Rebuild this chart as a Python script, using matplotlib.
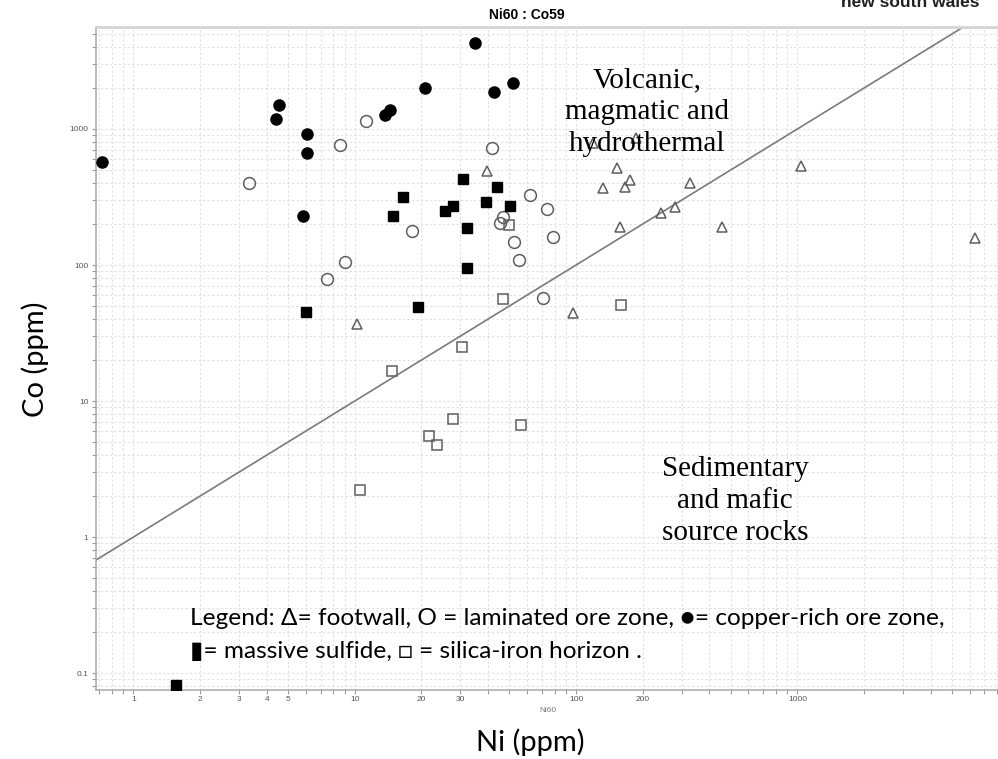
import matplotlib
matplotlib.use("Agg")
import matplotlib.pyplot as plt

# ---- data: Ni (ppm) and Co (ppm) per sample group ----
footwall_ni = [10.2, 39.7, 96.5, 119.6, 132.7, 153.5, 158, 166.4, 175.2, 186.5,
               242, 280, 327, 458, 1038, 6345]
footwall_co = [36.8, 491, 44.6, 785, 366, 520, 189, 377, 422, 855,
               240, 267, 403, 189, 537, 159]

laminated_ni = [3.34, 7.51, 8.60, 9.0, 11.2, 18.1, 41.7, 45.3, 46.9, 52.4,
                55.4, 61.9, 70.8, 74.1, 78.4]
laminated_co = [399, 78.9, 763, 105, 1145, 178, 725, 205, 224, 148,
                108, 327, 56.9, 257, 161]

copper_ni = [0.72, 4.40, 4.53, 5.81, 6.06, 6.06, 13.7, 14.5, 20.8, 34.9, 42.4, 51.7]
copper_co = [569, 1178, 1494, 229, 924, 669, 1268, 1371, 1991, 4313, 1862, 2168]

massive_ni = [1.56, 6.02, 14.9, 16.6, 19.4, 25.6, 27.7, 30.8, 32.2, 32.2, 39.1, 43.8, 50.3]
massive_co = [0.0816, 45.4, 229, 315, 49.3, 251, 272, 431, 187, 94.6, 292, 377, 272]

silica_ni = [10.6, 14.7, 21.6, 23.5, 27.9, 30.5, 46.9, 49.8, 56.2, 160]
silica_co = [2.22, 16.6, 5.53, 4.75, 7.33, 25.1, 56.2, 198, 6.66, 50.6]

# Co = Ni reference line
ratio_line = [0.1, 20000]

x_major = [1, 2, 3, 4, 5, 10, 20, 30, 100, 200, 1000]
x_major_labels = ["1", "2", "3", "4", "5", "10", "20", "30", "100", "200", "1000"]
y_major = [0.1, 1, 10, 100, 1000]
y_major_labels = ["0.1", "1", "10", "100", "1000"]

W, H = 998, 759
fig = plt.figure(figsize=(W / 100, H / 100), dpi=100)


def fx(px):
    return px / W


def fy(py):
    return 1 - py / H


ax = fig.add_axes([fx(96), fy(690), fx(1012 - 96), fy(27) - fy(690)])
ax.set_xscale("log")
ax.set_yscale("log")
ax.set_xlim(0.677, 9330)
ax.set_ylim(0.075, 5623)


# minor positions: every 1..9 multiple per decade not already a labelled tick
def decade_steps(lo_exp, hi_exp):
    vals = []
    for e in range(lo_exp, hi_exp + 1):
        for m in range(1, 10):
            vals.append(round(m * 10.0 ** e, 6))
    return vals


x_all = [v for v in decade_steps(-1, 3) if 0.677 <= v <= 9330]
y_all = [v for v in decade_steps(-2, 3) if 0.075 <= v <= 5623]
ax.set_xticks(x_major)
ax.set_xticklabels(x_major_labels)
ax.set_xticks([v for v in x_all if v not in x_major], minor=True)
ax.set_yticks(y_major)
ax.set_yticklabels(y_major_labels)
ax.set_yticks([v for v in y_all if v not in y_major], minor=True)
ax.tick_params(which="both", direction="out", length=3, width=0.8, color="#9a9a9a",
               labelsize=6, labelcolor="#555555")
ax.tick_params(axis="x", which="both", pad=1.5)
ax.tick_params(axis="y", which="both", pad=2.5)
for lab in ax.get_xticklabels() + ax.get_yticklabels():
    lab.set_fontfamily("Liberation Sans")

ax.grid(True, which="both", color="#e0e0e0", linestyle=(0, (2, 2)), linewidth=0.8)
ax.set_axisbelow(True)
for side in ("left", "bottom"):
    ax.spines[side].set_color("#a8a8a8")
    ax.spines[side].set_linewidth(1.1)
ax.spines["top"].set_color("#d4d4d4")
ax.spines["top"].set_linewidth(2.0)
ax.spines["right"].set_visible(False)

ax.plot(ratio_line, ratio_line, color="#7a7a7a", linewidth=1.2, zorder=2)

ax.plot(footwall_ni, footwall_co, linestyle="none", marker="^", markersize=7.5,
        markerfacecolor="none", markeredgecolor="#5e5e5e", markeredgewidth=1.1, zorder=3)
ax.plot(laminated_ni, laminated_co, linestyle="none", marker="o", markersize=8.5,
        markerfacecolor="none", markeredgecolor="#5e5e5e", markeredgewidth=1.1, zorder=3)
ax.plot(silica_ni, silica_co, linestyle="none", marker="s", markersize=7.8,
        markerfacecolor="none", markeredgecolor="#5e5e5e", markeredgewidth=1.1, zorder=3)
ax.plot(copper_ni, copper_co, linestyle="none", marker="o", markersize=8,
        markerfacecolor="black", markeredgecolor="black", zorder=4)
ax.plot(massive_ni, massive_co, linestyle="none", marker="s", markersize=7.3,
        markerfacecolor="black", markeredgecolor="black", zorder=4)

# titles and labels
fig.text(fx(527), fy(15), "Ni60 : Co59", ha="center", va="center",
         fontsize=10, fontweight="bold", family="Liberation Sans")
fig.text(fx(910), fy(7), "new south wales", ha="center", va="baseline",
         fontsize=12.5, fontweight="bold", family="Liberation Sans", color="#222222")
fig.text(fx(548), fy(711), "Ni60", ha="center", va="center",
         fontsize=6, color="#777777", family="Liberation Sans")

fig.text(fx(530), fy(742), "Ni (ppm)", ha="center", va="center",
         fontsize=21, family="Lato")
fig.text(fx(35), fy(359), "Co (ppm)", ha="center", va="center", rotation=90,
         fontsize=21, family="Lato")

serif = "Liberation Serif"
fig.text(fx(647), fy(112), "Volcanic,\nmagmatic and\nhydrothermal", ha="center",
         va="center", multialignment="center", fontsize=21, family=serif,
         linespacing=1.3, zorder=10)
fig.text(fx(735), fy(501), "Sedimentary\nand mafic\nsource rocks", ha="center",
         va="center", multialignment="center", fontsize=21, family=serif,
         linespacing=1.3, zorder=10)

legend_font = ["Lato", "DejaVu Sans"]
fig.text(fx(190), fy(625),
         "Legend: \u0394= footwall, O = laminated ore zone, \u25cf= copper-rich ore zone,",
         ha="left", va="baseline", fontsize=17.6, family=legend_font)
fig.text(fx(190), fy(658),
         "\u25ae= massive sulfide, \u25a1 = silica-iron horizon .",
         ha="left", va="baseline", fontsize=17.6, family=legend_font)

fig.savefig("out.png", dpi=100)
